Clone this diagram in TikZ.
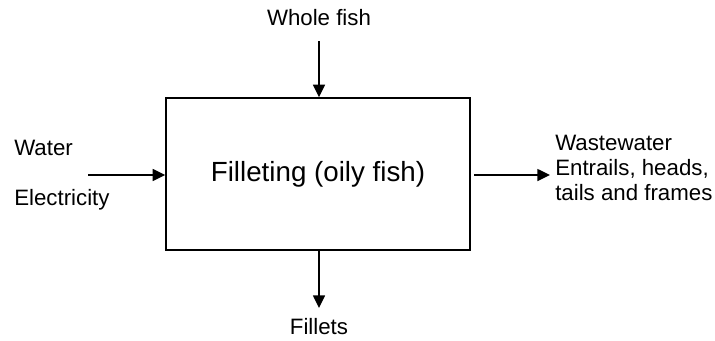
\documentclass[tikz,border=0pt]{standalone}
\usepackage{fontspec}
\setmainfont{Liberation Sans}
\usetikzlibrary{arrows.meta}
\begin{document}
\begin{tikzpicture}[x=0.75pt,y=-0.75pt,
  flow/.style={line width=1.1pt,-{Triangle[length=9.5pt,width=9pt]}},
  label/.style={inner sep=0pt,font=\fontsize{16.7pt}{18.8pt}\selectfont},
  process/.style={draw,line width=1.1pt,minimum width=228pt,minimum height=114pt,
    inner sep=0pt,font=\fontsize{20.8pt}{24pt}\selectfont}]
\useasboundingbox (0,0) rectangle (715,340);
% process box
\node[process] (box) at (318,174) {Filleting (oily fish)};
% labels
\node[label] (whole) at (319,18) {Whole fish};
\node[label] (fillets) at (319,327) {Fillets};
\node[label,anchor=west] (water) at (14,148) {Water};
\node[label,anchor=west] (elec) at (14,200) {Electricity};
\node[label,anchor=west,align=left] (out) at (555,168) {Wastewater\\Entrails, heads,\\tails and frames};
% free ends of the connectors
\coordinate (topstart) at (319,41);
\coordinate (botend) at (319,308);
\coordinate (leftstart) at (88,175);
\coordinate (rightstart) at (474,175);
\coordinate (rightend) at (550,175);
% connectors
\draw[flow] (topstart) -- (topstart |- box.north);
\draw[flow] (botend |- box.south) -- (botend);
\draw[flow] (leftstart) -- (leftstart -| box.west);
\draw[flow] (rightstart) -- (rightend);
\end{tikzpicture}
\end{document}
